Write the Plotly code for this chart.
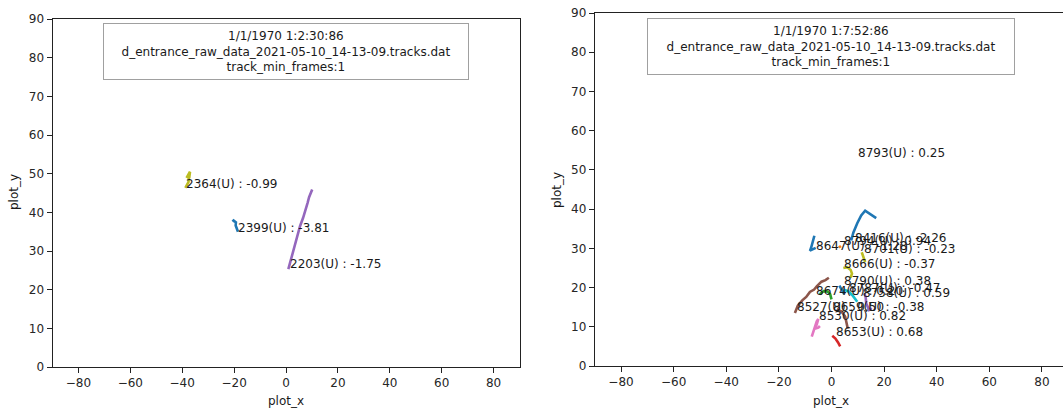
import plotly.graph_objects as go

# ---------------- data ----------------
x_ticks = [-80, -60, -40, -20, 0, 20, 40, 60, 80]
y_ticks = [0, 10, 20, 30, 40, 50, 60, 70, 80, 90]

left_title_lines = ["1/1/1970 1:2:30:86",
                    "d_entrance_raw_data_2021-05-10_14-13-09.tracks.dat",
                    "track_min_frames:1"]
right_title_lines = ["1/1/1970 1:7:52:86",
                     "d_entrance_raw_data_2021-05-10_14-13-09.tracks.dat",
                     "track_min_frames:1"]

# left panel tracks
t2364_x = [-38.8, -37.6, -37.4, -38.1, -37.0, -37.3]
t2364_y = [46.3, 47.8, 48.9, 49.2, 50.5, 48.9]
t2399_x = [-18.5, -18.9, -19.4, -19.3, -20.2, -20.6]
t2399_y = [35.0, 35.6, 36.6, 37.4, 37.9, 37.6]
t2203_x = [0.9, 2.2, 3.4, 4.6, 5.4, 6.6, 7.6, 8.3, 8.9, 9.6, 10.1]
t2203_y = [25.3, 28.5, 31.6, 34.2, 36.4, 38.6, 40.6, 42.4, 43.9, 45.2, 45.9]

left_label_text = ["2364(U) : -0.99", "2399(U) : -3.81", "2203(U) : -1.75"]
left_label_x = [-38.9, -19.0, 1.3]
left_label_y = [47.3, 35.9, 26.6]

# right panel tracks
r_blue1_x = [7.5, 8.3, 9.8, 11.3, 12.8, 14.3, 15.8, 17.0]
r_blue1_y = [32.0, 34.0, 36.4, 38.4, 39.6, 39.0, 38.3, 37.7]
r_blue2_x = [-6.5, -7.1, -7.8, -8.2, -7.0, -6.0]
r_blue2_y = [33.2, 31.5, 30.0, 29.4, 29.8, 30.1]
r_orange_x = [2.8, 3.6]
r_orange_y = [30.2, 30.6]
r_olive1_x = [11.5, 12.0, 12.4, 12.8]
r_olive1_y = [29.0, 28.0, 27.3, 26.5]
r_olive2_x = [4.5, 6.0, 7.3, 7.8, 7.2]
r_olive2_y = [25.0, 25.2, 24.5, 23.5, 22.5]
r_brown1_x = [-13.9, -12.8, -11.0, -9.6, -8.2, -6.6, -5.6, -3.8, -2.3, -1.0]
r_brown1_y = [13.5, 15.4, 16.8, 17.6, 18.9, 19.5, 20.3, 21.5, 21.9, 22.5]
r_brown2_x = [2.0, 3.8, 5.2, 5.9, 6.2]
r_brown2_y = [14.5, 13.9, 12.6, 10.8, 9.5]
r_green_x = [-4.5, -3.0, -1.5, -0.5, 0.0]
r_green_y = [18.3, 19.1, 19.0, 18.3, 17.0]
r_cyan_x = [4.5, 6.5, 8.0, 9.0, 9.8]
r_cyan_y = [19.5, 19.0, 18.0, 17.0, 16.4]
r_blue3_x = [3.0, 3.8, 4.6, 5.2]
r_blue3_y = [20.5, 19.5, 18.6, 18.8]
r_purple_x = [12.5, 13.0, 13.2, 13.8, 14.3, 15.3]
r_purple_y = [18.5, 17.5, 16.0, 15.0, 14.3, 14.8]
r_pink_x = [-7.5, -7.0, -6.5, -5.6, -5.0, -5.6, -6.4, -5.0, -4.4]
r_pink_y = [7.5, 8.6, 10.0, 11.4, 12.0, 10.6, 9.5, 9.8, 10.2]
r_red_x = [0.3, 1.5, 2.5, 3.3]
r_red_y = [7.7, 7.0, 6.0, 5.0]

right_label_text = ["8793(U) : 0.25", "8416(U) : -2.26", "8794(U) : 0.94",
                    "8647(U) : -1.28", "8701(U) : -0.23", "8666(U) : -0.37",
                    "8790(U) : 0.38", "8787(U) : -0.47", "8674(U) : 0.20",
                    "8758(U) : 0.59", "8527(U) : 0.50", "8659(U) : -0.38",
                    "8530(U) : 0.82", "8653(U) : 0.68"]
right_label_x = [9.8, 8.6, 4.5, -6.3, 12.0, 4.5, 4.5, 6.3, -6.3, 11.6,
                 -13.5, 0.1, -5.0, 1.3]
right_label_y = [54.3, 32.6, 31.9, 30.6, 29.8, 26.0, 21.7, 19.9, 19.1, 18.5,
                 15.1, 15.0, 12.7, 8.6]

# ---------------- figure ----------------
BLUE, ORANGE, GREEN, RED = "#1f77b4", "#ff7f0e", "#2ca02c", "#d62728"
PURPLE, BROWN, PINK, OLIVE, CYAN = "#9467bd", "#8c564b", "#e377c2", "#bcbd22", "#17becf"
FONT = "DejaVu Sans"
W, H = 1063, 412

fig = go.Figure()

def add_track(xs, ys, color, ax):
    fig.add_trace(go.Scatter(x=xs, y=ys, mode="lines",
                             line=dict(color=color, width=2.6),
                             xaxis="x" if ax == 1 else "x2",
                             yaxis="y" if ax == 1 else "y2",
                             showlegend=False, hoverinfo="skip"))

add_track(t2364_x, t2364_y, OLIVE, 1)
add_track(t2399_x, t2399_y, BLUE, 1)
add_track(t2203_x, t2203_y, PURPLE, 1)

for xs, ys, c in [(r_blue1_x, r_blue1_y, BLUE), (r_blue2_x, r_blue2_y, BLUE),
                  (r_orange_x, r_orange_y, ORANGE), (r_olive1_x, r_olive1_y, OLIVE),
                  (r_olive2_x, r_olive2_y, OLIVE), (r_brown1_x, r_brown1_y, BROWN),
                  (r_brown2_x, r_brown2_y, BROWN), (r_green_x, r_green_y, GREEN),
                  (r_cyan_x, r_cyan_y, CYAN), (r_blue3_x, r_blue3_y, BLUE),
                  (r_purple_x, r_purple_y, PURPLE), (r_pink_x, r_pink_y, PINK),
                  (r_red_x, r_red_y, RED)]:
    add_track(xs, ys, c, 2)

annotations = []
for t, x, y in zip(left_label_text, left_label_x, left_label_y):
    annotations.append(dict(x=x, y=y, xref="x", yref="y", text=t, showarrow=False,
                            xanchor="left", yanchor="middle", borderpad=0,
                            font=dict(family=FONT, size=12, color="#1a1a1a")))
for t, x, y in zip(right_label_text, right_label_x, right_label_y):
    annotations.append(dict(x=x, y=y, xref="x2", yref="y2", text=t, showarrow=False,
                            xanchor="left", yanchor="middle", borderpad=0,
                            font=dict(family=FONT, size=12, color="#1a1a1a")))

# legend-like info boxes
annotations.append(dict(x=0, y=1 - 4 / 348, xref="x", yref="y domain",
                        text="<br>".join(left_title_lines), showarrow=False,
                        xanchor="center", yanchor="top", align="center",
                        bgcolor="white", bordercolor="#a0a0a0", borderwidth=1,
                        borderpad=5, width=354,
                        font=dict(family=FONT, size=12, color="#1a1a1a")))
annotations.append(dict(x=0, y=1 - 5 / 353, xref="x2", yref="y2 domain",
                        text="<br>".join(right_title_lines), showarrow=False,
                        xanchor="center", yanchor="top", align="center",
                        bgcolor="white", bordercolor="#a0a0a0", borderwidth=1,
                        borderpad=5, width=356,
                        font=dict(family=FONT, size=12, color="#1a1a1a")))

# axis titles
for txt, x, y, ang in [("plot_x", 286 / W, 1 - 401 / H, 0),
                       ("plot_x", 831 / W, 1 - 401 / H, 0),
                       ("plot_y", 14 / W, 1 - 192 / H, -90),
                       ("plot_y", 557 / W, 1 - 190 / H, -90)]:
    annotations.append(dict(x=x, y=y, xref="paper", yref="paper", text=txt,
                            showarrow=False, textangle=ang,
                            xanchor="center", yanchor="middle",
                            font=dict(family=FONT, size=12, color="#1a1a1a")))

axis_common = dict(showgrid=False, zeroline=False, showline=True, linecolor="#222222",
                   linewidth=1, ticks="outside", ticklen=5, tickwidth=1,
                   tickcolor="#222222", automargin=False,
                   tickfont=dict(family=FONT, size=12, color="#262626"))

fig.update_layout(
    width=W, height=H, autosize=False,
    margin=dict(l=0, r=0, t=0, b=0, pad=0, autoexpand=False),
    paper_bgcolor="white", plot_bgcolor="white",
    showlegend=False,
    xaxis=dict(domain=[52.5 / W, 519.5 / W], range=[-90, 90], tickvals=x_ticks,
               mirror=True, anchor="y", **axis_common),
    yaxis=dict(domain=[45 / H, 393 / H], range=[0, 90], tickvals=y_ticks,
               mirror=True, anchor="x", **axis_common),
    xaxis2=dict(domain=[594.7 / W, 1.0], range=[-90, 88.0], tickvals=x_ticks,
                mirror=True, anchor="y2", **axis_common),
    yaxis2=dict(domain=[46 / H, 399 / H], range=[0, 90], tickvals=y_ticks,
                mirror=False, anchor="x2", **axis_common),
    annotations=annotations,
)

fig.write_html("out.html", config={"displayModeBar": False},
               post_script="document.body.style.margin='0';document.body.style.overflow='hidden';")
